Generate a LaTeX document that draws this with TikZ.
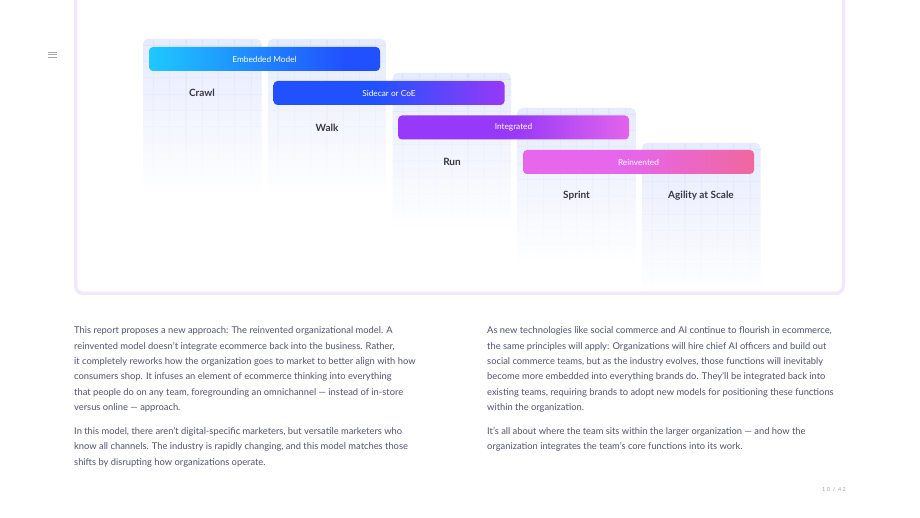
\documentclass[tikz,border=0pt]{standalone}
\usepackage{fontspec}
\setmainfont{Lato}
\definecolor{frameC}{HTML}{F1E8FD}
\definecolor{tileC}{HTML}{E6EBFD}
\definecolor{gridC}{HTML}{DCE3FB}
\definecolor{txtC}{HTML}{52536E}
\definecolor{labC}{HTML}{373843}
\definecolor{pageC}{HTML}{A3A3B3}
\definecolor{iconC}{HTML}{A5A6AE}
\definecolor{cyanA}{HTML}{1EC9FE}
\definecolor{blueA}{HTML}{2151FF}
\definecolor{purpA}{HTML}{9739F8}
\definecolor{pinkA}{HTML}{E264EC}
\definecolor{pinkB}{HTML}{E666EC}
\definecolor{roseA}{HTML}{F0679F}
\pgfdeclarehorizontalshading{embsh}{100bp}{color(0bp)=(cyanA); color(25bp)=(cyanA); color(67bp)=(blueA); color(75bp)=(blueA); color(100bp)=(blueA)}
\pgfdeclarehorizontalshading{sidsh}{100bp}{color(0bp)=(blueA); color(25bp)=(blueA); color(47bp)=(blueA); color(75bp)=(purpA); color(100bp)=(purpA)}
\pgfdeclarehorizontalshading{intsh}{100bp}{color(0bp)=(purpA); color(25bp)=(purpA); color(50bp)=(purpA); color(75bp)=(pinkA); color(100bp)=(pinkA)}
\pgfdeclarehorizontalshading{reish}{100bp}{color(0bp)=(pinkB); color(25bp)=(pinkB); color(47bp)=(pinkB); color(75bp)=(roseA); color(100bp)=(roseA)}
\tikzset{
  barbox/.style={shade, rounded corners=4pt, minimum width=231pt, minimum height=24pt, inner sep=0pt, text=white, font=\fontsize{8.3}{10}\selectfont},
  lab/.style={text=labC, inner sep=0pt, font=\bfseries\fontsize{10}{12}\selectfont},
  para/.style={anchor=base west, inner sep=0pt, text=txtC, font=\fontsize{9.35}{11}\selectfont},
}
\begin{document}
\begin{tikzpicture}[x=1pt,y=-1pt]
\useasboundingbox (0,0) rectangle (920,518);
\fill[white] (0,0) rectangle (920,518);
% tiles
\foreach \i/\ty/\hh in {0/39/156, 1/39/156, 2/73/157, 3/108/156, 4/143/152} {
  \pgfmathsetmacro\xl{143+124.75*\i}
  \pgfmathsetmacro\xr{\xl+118.5}
  \pgfmathsetmacro\yb{\ty+\hh}
  \shade[top color=tileC, bottom color=white, rounded corners=5pt] (\xl,\ty) rectangle (\xr,\yb);
  \foreach \k in {0,...,6} {
    \pgfmathsetmacro\gx{\xl+10.3+16.3*\k}
    \shade[top color=gridC, bottom color=white] (\gx-0.35,\ty+1) rectangle (\gx+0.35,\yb);
  }
  \foreach \k in {0,...,9} {
    \pgfmathsetmacro\gy{\ty+6+16.3*\k}
    \pgfmathsetmacro\pc{max(0,100*(1-(\gy-\ty)/\hh))}
    \draw[gridC!\pc!white, line width=0.7pt] (\xl,\gy) -- (\xr,\gy);
  }
}
% frame
\draw[frameC, line width=3.5pt, rounded corners=8pt] (75.5,-30) rectangle (843.5,293.5);
% hamburger icon
\foreach \yy in {52.3,54.7,57.1} \draw[iconC, line width=0.8pt] (48,\yy) -- (56.5,\yy);
% column labels
\node[lab] (crawl) at (202,93) {Crawl};
\node[lab] (walk) at (327,128) {Walk};
\node[lab] (run) at (452,162) {Run};
\node[lab] (sprint) at (576.5,195.5) {Sprint};
\node[lab] (agility) at (701,195.5) {Agility at Scale};
% bars
\node[barbox, shading=embsh] (emb) at (264.5,59) {Embedded Model};
\node[barbox, shading=sidsh] (side) at (389,93) {Sidecar or CoE};
\node[barbox, shading=intsh] (integ) at (513.5,127.5) {Integrated};
\node[barbox, shading=reish] (reinv) at (638.5,162) {Reinvented};
% left text
\node[para] (l1) at (74,334) {This report proposes a new approach: The reinvented organizational model. A};
\node[para] (l2) at (74,349.3) {reinvented model doesn’t integrate ecommerce back into the business. Rather,};
\node[para] (l3) at (74,364.6) {it completely reworks how the organization goes to market to better align with how};
\node[para] (l4) at (74,379.9) {consumers shop. It infuses an element of ecommerce thinking into everything};
\node[para] (l5) at (74,395.2) {that people do on any team, foregrounding an omnichannel — instead of in-store};
\node[para] (l6) at (74,410.5) {versus online — approach.};
\node[para] (l7) at (74,434.5) {In this model, there aren’t digital-specific marketers, but versatile marketers who};
\node[para] (l8) at (74,449.8) {know all channels. The industry is rapidly changing, and this model matches those};
\node[para] (l9) at (74,465.1) {shifts by disrupting how organizations operate.};
% right text
\node[para] (r1) at (487,334) {As new technologies like social commerce and AI continue to flourish in ecommerce,};
\node[para] (r2) at (487,349.3) {the same principles will apply: Organizations will hire chief AI officers and build out};
\node[para] (r3) at (487,364.6) {social commerce teams, but as the industry evolves, those functions will inevitably};
\node[para] (r4) at (487,379.9) {become more embedded into everything brands do. They’ll be integrated back into};
\node[para] (r5) at (487,395.2) {existing teams, requiring brands to adopt new models for positioning these functions};
\node[para] (r6) at (487,410.5) {within the organization.};
\node[para] (r7) at (487,434.5) {It’s all about where the team sits within the larger organization — and how the};
\node[para] (r8) at (487,449.8) {organization integrates the team’s core functions into its work.};
% page number
\node[text=pageC, inner sep=0pt, font=\fontsize{5.5}{7}\selectfont\addfontfeature{LetterSpace=25}] (pg) at (834,490) {10 / 42};
\end{tikzpicture}
\end{document}
